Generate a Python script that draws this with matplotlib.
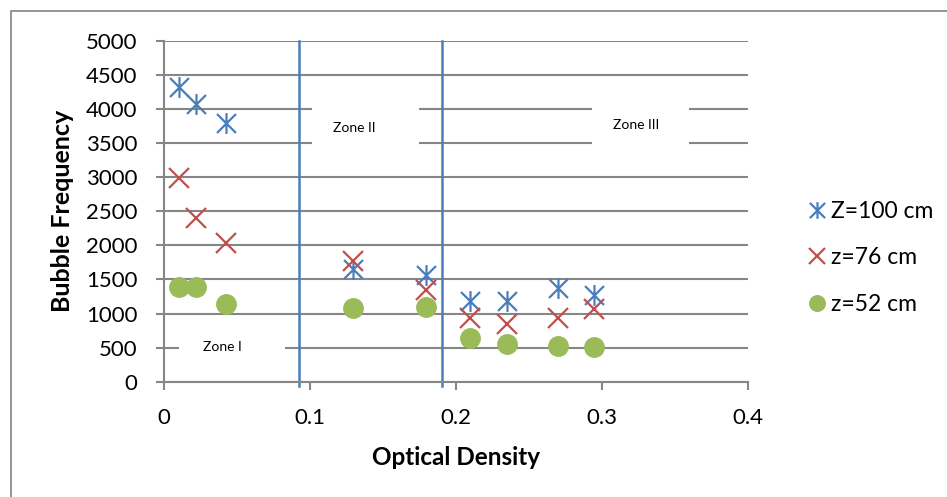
import matplotlib
matplotlib.use("Agg")
import matplotlib.pyplot as plt
from matplotlib.path import Path
from matplotlib.patches import Rectangle

plt.rcParams['font.family'] = ['Lato', 'DejaVu Sans']

# Optical density of each measurement
optical_density = [0.0105, 0.0217, 0.0427, 0.1296, 0.1796, 0.2094, 0.2350, 0.2697, 0.2948]

# Bubble frequency at three probe heights
freq_z100 = [4325, 4070, 3800, 1650, 1565, 1190, 1185, 1370, 1275]
freq_z76 = [2990, 2395, 2030, 1775, 1345, 940, 845, 930, 1065]
freq_z52 = [1385, 1385, 1140, 1080, 1095, 635, 555, 530, 505]

series_labels = ["Z=100 cm", "z=76 cm", "z=52 cm"]

# Zone boundaries and labels
zone_bounds = [0.0924, 0.1907]
zone_labels = ["Zone I", "Zone II", "Zone III"]
zone_label_x = [0.0397, 0.1305, 0.3235]
zone_label_y = [504, 3720, 3765]
zone_box_x = [(0.0103, 0.0828), (0.1017, 0.1745), (0.2934, 0.3593)]

x_ticks = [0, 0.1, 0.2, 0.3, 0.4]
x_tick_labels = ["0", "0.1", "0.2", "0.3", "0.4"]
y_ticks = list(range(0, 5001, 500))

BLUE = "#4A7EBB"
RED = "#C0504D"
GREEN = "#9BBB59"
GRID = "#868686"

# Asterisk marker: two diagonals plus a vertical stroke
star = Path(
    [(-1, -1), (1, 1), (-1, 1), (1, -1), (0, -1.1), (0, 1.1)],
    [Path.MOVETO, Path.LINETO, Path.MOVETO, Path.LINETO, Path.MOVETO, Path.LINETO],
)

fig = plt.figure(figsize=(9.47, 4.97), dpi=100)
ax = fig.add_axes([164 / 947, 1 - 381.7 / 497, (748 - 164) / 947, (381.7 - 40.7) / 497])

# Outer chart frame
fig.patches.append(Rectangle((11 / 947, -0.1), 1.2, 1 - 11 / 497 + 0.1,
                             transform=fig.transFigure, fill=False,
                             edgecolor="#8C8C8C", linewidth=1.3, zorder=0))

ax.set_xlim(0, 0.4)
ax.set_ylim(0, 5000)
ax.set_xticks(x_ticks)
ax.set_xticklabels(x_tick_labels)
ax.set_yticks(y_ticks)
ax.yaxis.grid(True, color=GRID, linewidth=1.5, zorder=0)
ax.set_axisbelow(True)

for side in ("top", "right"):
    ax.spines[side].set_visible(False)
for side in ("left", "bottom"):
    ax.spines[side].set_color(GRID)
    ax.spines[side].set_linewidth(1.5)

ax.tick_params(axis="both", direction="out", length=6, width=1.5, color=GRID,
               labelsize=16, pad=13, labelcolor="black")

ax.set_xlabel("Optical Density", fontsize=17.5, fontweight="bold")
ax.set_ylabel("Bubble Frequency", fontsize=18, fontweight="bold")
ax.xaxis.set_label_coords((456 - 164) / 584, -(446 - 381.7) / 341)
ax.yaxis.set_label_coords(-(164 - 74) / 584, 0.5)

# White label boxes that interrupt the gridlines
for (x0, x1), yc in zip(zone_box_x, zone_label_y):
    ax.add_patch(Rectangle((x0, yc - 370), x1 - x0, 740, facecolor="white",
                           edgecolor="none", zorder=1))
for txt, xc, yc in zip(zone_labels, zone_label_x, zone_label_y):
    ax.text(xc, yc, txt, fontsize=10, ha="center", va="center", zorder=2)

# Zone boundary lines
for xb in zone_bounds:
    ax.plot([xb, xb], [-65, 5000], color=BLUE, linewidth=1.8, clip_on=False, zorder=2)

ax.plot(optical_density, freq_z100, linestyle="none", marker=star, markersize=15,
        markeredgecolor=BLUE, markeredgewidth=1.6, color=BLUE,
        label=series_labels[0], zorder=3, clip_on=False)
ax.plot(optical_density, freq_z76, linestyle="none", marker="x", markersize=14,
        markeredgecolor=RED, markeredgewidth=1.6, color=RED,
        label=series_labels[1], zorder=3, clip_on=False)
ax.plot(optical_density, freq_z52, linestyle="none", marker="o", markersize=14,
        markerfacecolor=GREEN, markeredgecolor=GREEN, color=GREEN,
        label=series_labels[2], zorder=3, clip_on=False)

leg = fig.legend(loc="center left", bbox_to_anchor=(799 / 947, 1 - 258 / 497),
                 frameon=False, fontsize=16.5, handlelength=0.8, handletextpad=0.2,
                 labelspacing=1.1, markerscale=0.8, borderaxespad=0)

fig.savefig("out.png", dpi=100)
